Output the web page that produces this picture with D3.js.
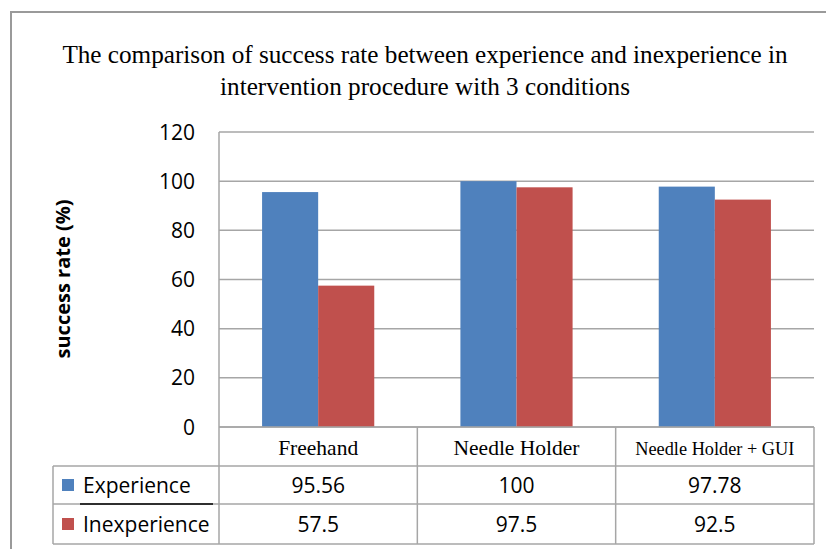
<!DOCTYPE html>
<html><head><meta charset="utf-8">
<script src="https://cdn.jsdelivr.net/npm/d3@7"></script>
<style>body{margin:0;background:#fff}svg{display:block}</style>
</head><body>
<script>
const categories = ["Freehand", "Needle Holder", "Needle Holder + GUI"];
const seriesNames = ["Experience", "Inexperience"];
const experience = [95.56, 100, 97.78];
const inexperience = [57.5, 97.5, 92.5];
const valueLabels = [["95.56", "100", "97.78"], ["57.5", "97.5", "92.5"]];
const yTicks = [0, 20, 40, 60, 80, 100, 120];
const titleLines = ["The comparison of success rate between experience and inexperience in", "intervention procedure with 3 conditions"];
const yTitle = "success rate (%)";

const colors = ["#4F81BD", "#C0504D"];
const W = 826, H = 549;
const sans = "'Open Sans', Lato, sans-serif";
const serif = "'Liberation Serif', 'Times New Roman', serif";

const svg = d3.select("body").append("svg").attr("width", W).attr("height", H);
svg.append("rect").attr("width", W).attr("height", H).attr("fill", "#fff");

// outer frame
svg.append("path").attr("d", "M11,549 V12 H826").attr("fill", "none").attr("stroke", "#9a9a9a").attr("stroke-width", 2);

// title
svg.append("g").selectAll("text").data(titleLines).join("text")
  .attr("x", 425).attr("y", (d, i) => 63 + i * 32)
  .attr("text-anchor", "middle").attr("font-family", serif).attr("font-size", 25.2)
  .attr("fill", "#000").text(d => d);

const x = d3.scaleBand().domain(categories).range([219, 814]);
const xs = d3.scaleBand().domain(seriesNames).range([0, x.bandwidth()]).paddingOuter(0.768);
const y = d3.scaleLinear().domain([0, 120]).range([427, 132]);

// gridlines
svg.append("g").selectAll("line").data(yTicks).join("line")
  .attr("x1", 219).attr("x2", 814).attr("y1", d => y(d)).attr("y2", d => y(d))
  .attr("stroke", "#a6a6a6").attr("stroke-width", 1.5);
// left axis line
svg.append("line").attr("x1", 219).attr("x2", 219).attr("y1", y(120)).attr("y2", 544)
  .attr("stroke", "#a6a6a6").attr("stroke-width", 1.5);

// y tick labels
svg.append("g").selectAll("text").data(yTicks).join("text")
  .attr("x", 195).attr("y", d => y(d)).attr("dy", "0.36em")
  .attr("text-anchor", "end").attr("font-family", sans).attr("font-size", 21)
  .attr("fill", "#000").text(d => d);

// y title
svg.append("text").attr("transform", "translate(70,279) rotate(-90)")
  .attr("text-anchor", "middle").attr("font-family", sans).attr("font-weight", "bold")
  .attr("font-size", 20).attr("fill", "#000").text(yTitle);

// bars
const seriesData = [experience, inexperience];
seriesData.forEach((vals, si) => {
  svg.append("g").selectAll("rect").data(vals).join("rect")
    .attr("x", (d, i) => x(categories[i]) + xs(seriesNames[si]))
    .attr("width", xs.bandwidth())
    .attr("y", d => y(d)).attr("height", d => y(0) - y(d))
    .attr("fill", colors[si]);
});

// data table
const rowY = [427, 466, 504, 544];
const tg = svg.append("g").attr("stroke", "#a6a6a6").attr("stroke-width", 1.5);
tg.append("line").attr("x1", 219).attr("x2", 814).attr("y1", rowY[0]).attr("y2", rowY[0]);
rowY.slice(1).forEach(yy => tg.append("line").attr("x1", 53).attr("x2", 814).attr("y1", yy).attr("y2", yy));
tg.append("line").attr("x1", 53).attr("x2", 53).attr("y1", rowY[1]).attr("y2", rowY[3]);
categories.forEach(c => {
  tg.append("line").attr("x1", x(c) + x.bandwidth()).attr("x2", x(c) + x.bandwidth()).attr("y1", rowY[0]).attr("y2", rowY[3]);
});

// header labels
svg.append("g").selectAll("text").data(categories).join("text")
  .attr("x", d => x(d) + x.bandwidth() / 2).attr("y", 455)
  .attr("text-anchor", "middle").attr("font-family", serif)
  .attr("font-size", (d, i) => i === 2 ? 18.3 : 21.5).attr("fill", "#000").text(d => d);

// legend rows
seriesNames.forEach((s, si) => {
  const cy = (rowY[si + 1] + rowY[si + 2]) / 2;
  svg.append("rect").attr("x", 62).attr("y", cy - 6).attr("width", 12).attr("height", 12).attr("fill", colors[si]);
  svg.append("text").attr("x", 83).attr("y", cy).attr("dy", "0.36em")
    .attr("font-family", sans).attr("font-size", 21).attr("fill", "#000").text(s);
  svg.append("g").selectAll("text").data(valueLabels[si]).join("text")
    .attr("x", (d, i) => x(categories[i]) + x.bandwidth() / 2).attr("y", cy).attr("dy", "0.36em")
    .attr("text-anchor", "middle").attr("font-family", sans).attr("font-size", 21)
    .attr("fill", "#000").text(d => d);
});
// black underline artifact
svg.append("line").attr("x1", 80).attr("x2", 213).attr("y1", 504).attr("y2", 504).attr("stroke", "#000").attr("stroke-width", 1.5);
</script>
</body></html>
